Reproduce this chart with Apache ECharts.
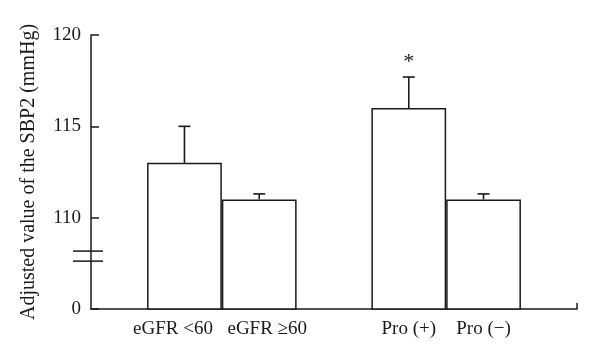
<!DOCTYPE html>
<html><head><meta charset="utf-8">
<script src="https://cdn.jsdelivr.net/npm/echarts@6/dist/echarts.min.js"></script>
<style>html,body{margin:0;padding:0;background:#fff}#c{width:600px;height:361px}</style>
</head><body><div id="c"></div>
<script>
// Data
const categories = ['eGFR <60', 'eGFR \u226560', 'Pro (+)', 'Pro (\u2212)'];
const means = [113, 111, 116, 111];
const errors = [2.0, 0.3, 1.7, 0.3];
const marks = ['', '', '*', ''];
const yTickValues = [105, 110, 115, 120];
const yTickLabels = ['0', '110', '115', '120'];

// Layout (not data)
const SLOT_COUNT = 13;
const slotOf = [2, 4, 8, 10];
const labelPad = [[0, 23, 0, 0], [0, 0, 0, 16], [0, 0, 0, 0], [0, 0, 0, 0]];
const FONT = 'Liberation Serif';
const INK = '#1a1a1a';

const xData = Array.from({length: SLOT_COUNT}, () => '');
categories.forEach((c, i) => { xData[slotOf[i]] = {value: c, textStyle: {padding: labelPad[i]}}; });

const chart = echarts.init(document.getElementById('c'), null, {renderer: 'canvas'});
chart.setOption({
  animation: false,
  backgroundColor: '#fff',
  grid: {left: 91, right: 23, top: 35, bottom: 52, containLabel: false},
  xAxis: {
    type: 'category',
    data: xData,
    boundaryGap: true,
    axisLine: {lineStyle: {color: INK, width: 1.5}},
    axisTick: {show: false},
    axisLabel: {interval: 0, color: INK, fontFamily: FONT, fontSize: 19, margin: 11}
  },
  yAxis: {
    type: 'value',
    min: 105, max: 120, interval: 5,
    name: 'Adjusted value of the SBP2 (mmHg)',
    nameLocation: 'middle',
    nameGap: 52,
    nameTextStyle: {color: INK, fontFamily: FONT, fontSize: 20},
    axisLine: {show: true, lineStyle: {color: INK, width: 1.5}},
    axisTick: {show: true, inside: true, length: 8, lineStyle: {color: INK, width: 1.5}},
    splitLine: {show: false},
    axisLabel: {color: INK, fontFamily: FONT, fontSize: 19, margin: 10,
      formatter: function (v) { const k = yTickValues.indexOf(v); return k >= 0 ? yTickLabels[k] : ''; }}
  },
  series: [
    {
      type: 'bar',
      barWidth: '200%',
      data: means.map((m, i) => [slotOf[i], m]),
      itemStyle: {color: '#fff', borderColor: INK, borderWidth: 1.5},
      z: 2
    },
    {
      type: 'custom',
      data: means.map((m, i) => [slotOf[i], m, m + errors[i], i]),
      z: 3,
      renderItem: function (params, api) {
        const x = api.value(0);
        const lo = api.coord([x, api.value(1)]);
        const hi = api.coord([x, api.value(2)]);
        const idx = api.value(3);
        const st = {stroke: INK, lineWidth: 1.6};
        const children = [
          {type: 'line', shape: {x1: lo[0], y1: lo[1], x2: hi[0], y2: hi[1]}, style: st},
          {type: 'line', shape: {x1: hi[0] - 6, y1: hi[1], x2: hi[0] + 6, y2: hi[1]}, style: st}
        ];
        if (marks[idx]) {
          children.push({type: 'text', x: hi[0], y: hi[1] - 4,
            style: {text: marks[idx], fill: INK, font: '22px ' + FONT, align: 'center', verticalAlign: 'bottom'}});
        }
        return {type: 'group', children: children};
      }
    }
  ]
});

// Axis break marks and x-axis end tick (decoration), positioned via the axis scales
function drawDecor() {
  const yA = chart.convertToPixel({yAxisIndex: 0}, 108.17);
  const yB = chart.convertToPixel({yAxisIndex: 0}, 107.62);
  const yBase = chart.convertToPixel({yAxisIndex: 0}, 105);
  const band = chart.convertToPixel({xAxisIndex: 0}, 1) - chart.convertToPixel({xAxisIndex: 0}, 0);
  const x0 = chart.convertToPixel({xAxisIndex: 0}, 0) - band / 2;
  const xEnd = chart.convertToPixel({xAxisIndex: 0}, SLOT_COUNT - 1) + band / 2;
  const st = {stroke: INK, lineWidth: 1.5};
  chart.setOption({graphic: [
    {type: 'line', shape: {x1: x0 - 18, y1: yA, x2: x0 + 12, y2: yA}, style: st, z: 10},
    {type: 'line', shape: {x1: x0 - 18, y1: yB, x2: x0 + 12, y2: yB}, style: st, z: 10},
    {type: 'line', shape: {x1: xEnd, y1: yBase, x2: xEnd, y2: yBase - 6}, style: st, z: 10}
  ]});
}
drawDecor();
</script></body></html>
